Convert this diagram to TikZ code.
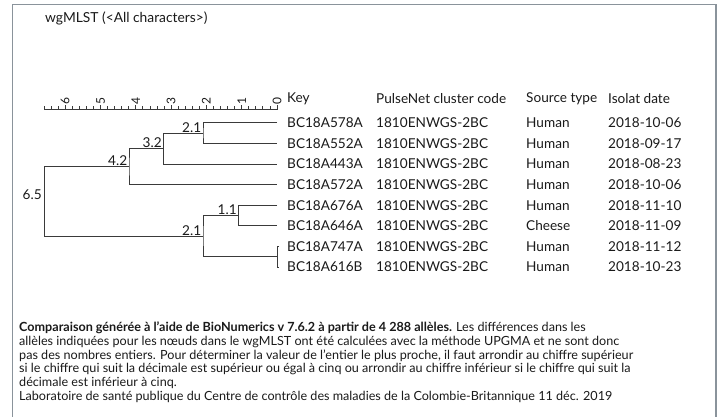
\documentclass[tikz,border=0pt]{standalone}
\usepackage{fontspec}
\setmainfont{Lato}[Numbers={Lining,Monospaced}]
\definecolor{frame}{HTML}{8A939B}
\definecolor{treeline}{HTML}{3A3A3A}
\definecolor{ink}{HTML}{1A1A1A}
\begin{document}
\begin{tikzpicture}[x=1pt,y=-1pt,
  tree/.style={draw=treeline, line width=1pt},
  cell/.style={anchor=west, inner sep=0pt, text=ink, font=\fontsize{13.6}{15}\selectfont},
  lab/.style={inner sep=0.6pt, text=ink, font=\fontsize{13.6}{15}\selectfont},
  scalelab/.style={rotate=90, anchor=west, inner sep=0pt, text=ink, font=\fontsize{12}{12}\selectfont},
  border/.style={draw=frame, line width=1.5pt}
]
\useasboundingbox (0,0) rectangle (718,417);
\fill[white] (0,0) rectangle (718,417);
% frame
\draw[border] (12.5,417) -- (12.5,4.5) -- (716,4.5) -- (716,417);
% title
\node[cell, font=\fontsize{13.8}{15}\selectfont] (title) at (45,18) {wgMLST (<All characters>)};
% scale
\draw[treeline, line width=0.9pt] (44,109) -- (277.5,109);
\foreach \i in {0,...,33} {
  \pgfmathtruncatemacro\m{mod(\i,5)}
  \pgfmathsetmacro\xx{277-\i*7.06}
  \ifnum\m=0
    \draw[treeline, line width=0.8pt] (\xx,109) -- (\xx,105);
  \else
    \draw[treeline, line width=0.8pt] (\xx,109) -- (\xx,106);
  \fi
}
\foreach \v in {0,...,6} {
  \pgfmathsetmacro\xx{277-\v*35.3}
  \node[scalelab] (s\v) at (\xx,104.5) {\v};
}
% header
\node[cell] (hkey) at (287,99) {Key};
\node[cell] (hcode) at (376,99) {PulseNet cluster code};
\node[cell] (hsrc) at (526,99) {Source type};
\node[cell] (hdate) at (608,99) {Isolat date};
% rows
\foreach \y/\k/\s/\d [count=\n] in {
  123/BC18A578A/Human/2018-10-06,
  143.6/BC18A552A/Human/2018-09-17,
  164.1/BC18A443A/Human/2018-08-23,
  184.7/BC18A572A/Human/2018-10-06,
  205.3/BC18A676A/Human/2018-11-10,
  225.9/BC18A646A/Cheese/2018-11-09,
  246.4/BC18A747A/Human/2018-11-12,
  267/BC18A616B/Human/2018-10-23} {
  \node[cell] (key\n) at (287,\y) {\k};
  \node[cell] (code\n) at (376,\y) {1810ENWGS-2BC};
  \node[cell] (src\n) at (526,\y) {\s};
  \node[cell] (date\n) at (608,\y) {\d};
  \coordinate (e\n) at (277,\y);
}
% tree nodes
\coordinate (a21) at (203,133.3);
\coordinate (a32) at (163.5,148.7);
\coordinate (a42) at (129,166.7);
\coordinate (b11) at (238.5,215.6);
\coordinate (b0) at (277,256.7);
\coordinate (b21) at (203,236.2);
\coordinate (r65) at (44.5,201.4);
\draw[tree] (e1) -| (a21) |- (e2);
\draw[tree] (a21) -| (a32) |- (e3);
\draw[tree] (a32) -| (a42) |- (e4);
\draw[tree] (e5) -| (b11) |- (e6);
\draw[tree] ([xshift=2pt]e7) -- (e7) -- (e8) -- ([xshift=2pt]e8);
\draw[tree] (b11) -| (b21) |- (b0);
\draw[tree] (a42) -| (r65) |- (b21);
% node labels
\node[lab, anchor=south east] (la21) at ([xshift=-1pt]a21) {2.1};
\node[lab, anchor=south east] (la32) at ([xshift=-1pt]a32) {3.2};
\node[lab, anchor=south east] (la42) at ([xshift=-1pt]a42) {4.2};
\node[lab, anchor=south east] (lb11) at ([xshift=-1pt]b11) {1.1};
\node[lab, anchor=south east] (lb21) at ([xshift=-1pt]b21) {2.1};
\node[lab, anchor=east] (lr65) at (42.5,195) {6.5};
% footnote
\node[anchor=north west, inner sep=0pt, align=left, text=ink,
  font=\fontsize{12.6}{13.8}\selectfont] (note) at (19,321.5) {%
\textbf{Comparaison générée à l’aide de BioNumerics v 7.6.2 à partir de 4 288 allèles.} Les différences dans les\\
allèles indiquées pour les nœuds dans le wgMLST ont été calculées avec la méthode UPGMA et ne sont donc\\
pas des nombres entiers. Pour déterminer la valeur de l’entier le plus proche, il faut arrondir au chiffre supérieur\\
si le chiffre qui suit la décimale est supérieur ou égal à cinq ou arrondir au chiffre inférieur si le chiffre qui suit la\\
décimale est inférieur à cinq.\\
Laboratoire de santé publique du Centre de contrôle des maladies de la Colombie-Britannique 11 déc. 2019};
\end{tikzpicture}
\end{document}
